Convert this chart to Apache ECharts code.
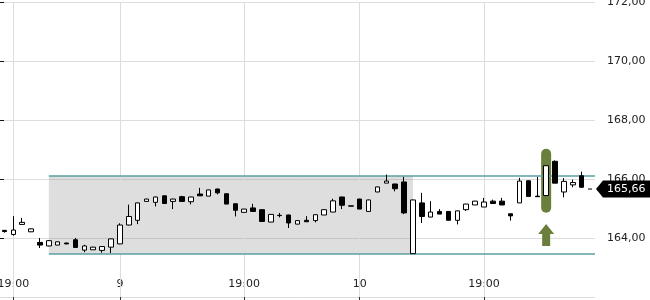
<!DOCTYPE html>
<html><head><meta charset="utf-8">
<script src="https://cdn.jsdelivr.net/npm/echarts@6/dist/echarts.min.js"></script>
<style>html,body{margin:0;padding:0;background:#fff}#c{width:650px;height:300px}</style>
</head><body><div id="c"></div>
<script>
// ---- data ----
const opens = [164.26,164.12,164.46,164.21,163.85,163.73,163.76,163.83,163.94,163.59,
  163.60,163.58,163.69,163.80,164.44,164.60,165.24,165.21,165.43,165.24,
  165.40,165.23,165.49,165.42,165.66,165.50,165.16,164.87,165.02,164.96,
  164.54,164.77,164.78,164.47,164.60,164.59,164.78,164.88,165.39,165.09,
  165.32,164.90,165.56,165.86,165.83,165.90,163.47,165.19,164.71,164.90,
  164.90,164.60,164.96,165.12,165.05,165.25,165.25,164.82,165.19,165.94,
  165.42,165.44,166.60,165.56,165.80,166.11];
const closes = [164.22,164.27,164.53,164.31,163.76,163.91,163.87,163.80,163.68,163.73,
  163.69,163.71,163.97,164.44,164.73,165.19,165.32,165.39,165.17,165.32,
  165.24,165.39,165.43,165.63,165.53,165.15,164.94,164.98,164.90,164.56,
  164.80,164.76,164.51,164.59,164.55,164.79,164.96,165.26,165.11,165.08,
  164.98,165.29,165.73,165.93,165.67,164.85,165.29,164.73,164.88,164.81,
  164.60,164.92,165.15,165.25,165.22,165.17,165.12,164.75,165.93,165.41,
  165.40,166.45,165.86,165.92,165.88,165.72];
const lows = [164.18,164.08,164.46,164.20,163.66,163.72,163.76,163.79,163.68,163.52,
  163.60,163.50,163.49,163.79,164.43,164.47,165.24,165.07,165.17,164.98,
  165.24,165.14,165.43,165.42,165.48,165.15,164.73,164.86,164.90,164.56,
  164.54,164.70,164.34,164.47,164.55,164.53,164.78,164.88,164.98,165.08,
  164.98,164.90,165.56,165.86,165.58,164.81,163.47,164.51,164.70,164.81,
  164.60,164.46,164.92,165.12,165.05,165.17,165.12,164.59,165.19,165.41,
  165.40,165.44,165.86,165.38,165.72,165.70];
const highs = [164.27,164.74,164.68,164.33,164.00,163.93,163.88,163.84,164.00,163.77,
  163.70,163.72,163.98,164.50,165.13,165.20,165.33,165.40,165.44,165.33,
  165.43,165.40,165.70,165.64,165.67,165.51,165.17,164.99,165.16,164.97,
  164.81,164.85,164.79,164.60,164.74,164.80,164.97,165.33,165.40,165.09,
  165.33,165.30,165.74,166.15,165.84,166.07,165.30,165.53,165.25,164.98,
  164.91,164.93,165.16,165.26,165.36,165.30,165.36,164.83,166.04,165.95,
  166.07,166.46,166.63,166.03,165.98,166.25];
const slotCount = 67;
const xTickIndex = [1, 13, 27, 40, 54];
const xTickLabels = ['19:00', '9', '19:00', '10', '19:00'];
const yMin = 162, yMax = 172, yStep = 2;
const rangeTop = 166.10, rangeBottom = 163.46, rangeStartIndex = 5, rangeEndIndex = 46;
const signalIndex = 61, signalHigh = 167.02, signalLow = 164.86;
const arrowTop = 164.47, arrowBottom = 163.73;
const lastPrice = 165.66;

// ---- build ----
const categories = Array.from({length: slotCount}, (_, i) => String(i));
const candles = opens.map((o, i) => [o, closes[i], lows[i], highs[i]]);
const labelAt = {};
xTickIndex.forEach((k, j) => labelAt[k] = xTickLabels[j]);
const FONT = 'DejaVu Sans';
const TEAL = '#5b9ea3';
const GREEN = '#6b7f3c';
const W = 650, H = 300, GRID_RIGHT = 55;
// slot-centre position on the hidden continuous x axis (slot i spans [i, i+1])
const slotCentre = (i) => i + 0.5;

const chart = echarts.init(document.getElementById('c'), null, {renderer: 'canvas'});
const option = {
  animation: false,
  backgroundColor: '#fff',
  grid: {left: 0, right: GRID_RIGHT, top: 2, bottom: 3, containLabel: false, outerBoundsMode: 'none'},
  xAxis: [{
    type: 'category', data: categories, boundaryGap: true,
    axisLine: {show: false},
    axisTick: {show: true, alignWithLabel: true, length: 3, inside: false,
      interval: (i) => labelAt[i] !== undefined, lineStyle: {color: '#333'}},
    axisLabel: {show: true, inside: true, margin: 7, interval: (i) => labelAt[i] !== undefined,
      formatter: (v, i) => labelAt[i] || '', color: '#222', fontFamily: FONT, fontSize: 11},
    splitLine: {show: false}
  }, {
    type: 'value', min: 0, max: slotCount, show: false
  }],
  yAxis: {
    type: 'value', position: 'right', min: yMin, max: yMax, interval: yStep,
    axisLine: {show: false},
    axisTick: {show: true, length: 4, lineStyle: {color: '#111'}},
    axisLabel: {margin: 12, color: '#222', fontFamily: FONT, fontSize: 11, showMinLabel: false,
      formatter: (v) => v.toFixed(2).replace('.', ',')},
    splitLine: {show: true, lineStyle: {color: '#dddddd', width: 1}}
  },
  series: [
    {
      type: 'line', data: [], z: 1, silent: true,
      markArea: {silent: true, z: 1,
        itemStyle: {color: 'rgba(128,128,128,0.26)'},
        data: [[{coord: [rangeStartIndex, rangeTop]}, {coord: [rangeEndIndex, rangeBottom]}]]
      },
      markLine: {silent: true, symbol: 'none', z: 1, label: {show: false},
        data: xTickIndex.map(k => ({xAxis: k, lineStyle: {color: '#dddddd', width: 1, type: 'solid'}}))
      },
      markPoint: {silent: true, z: 1, label: {show: false},
        data: [
          {coord: [signalIndex, (signalHigh + signalLow) / 2],
           symbol: 'path://M0,5 A5,5 0 0 1 10,5 L10,59 A5,5 0 0 1 0,59 Z',
           symbolSize: [10, 64], symbolKeepAspect: false, itemStyle: {color: GREEN}},
          {coord: [signalIndex, (arrowTop + arrowBottom) / 2],
           symbol: 'path://M8,0 L16,10 L12,10 L12,22 L4,22 L4,10 L0,10 Z',
           symbolSize: [16, 22], symbolKeepAspect: false, itemStyle: {color: GREEN}}
        ]
      }
    },
    {
      type: 'line', xAxisIndex: 1, z: 2, silent: true, symbol: 'none',
      lineStyle: {color: TEAL, width: 1.5},
      data: [[slotCentre(rangeStartIndex), rangeTop], [slotCount, rangeTop]]
    },
    {
      type: 'line', xAxisIndex: 1, z: 2, silent: true, symbol: 'none',
      lineStyle: {color: TEAL, width: 1.5},
      data: [[slotCentre(rangeStartIndex), rangeBottom], [slotCount, rangeBottom]]
    },
    {
      type: 'candlestick', data: candles, z: 3, barWidth: 5,
      itemStyle: {color: '#ffffff', color0: '#000000', borderColor: '#000000',
        borderColor0: '#000000', borderColorDoji: '#000000', borderWidth: 1}
    }
  ]
};
chart.setOption(option);

function drawLastPrice() {
  const y = chart.convertToPixel({yAxisIndex: 0}, lastPrice);
  const gx = W - GRID_RIGHT;
  chart.setOption({
    graphic: [
      {type: 'line', z: 100, shape: {x1: gx - 7, y1: y, x2: gx - 3, y2: y},
        style: {stroke: '#000', lineWidth: 1}},
      {type: 'polygon', z: 100,
        shape: {points: [[gx + 1, y], [gx + 8, y - 8.5], [W, y - 8.5], [W, y + 8.5], [gx + 8, y + 8.5]]},
        style: {fill: '#000'}},
      {type: 'text', z: 101, x: gx + 12, y: y,
        style: {text: lastPrice.toFixed(2).replace('.', ','), fill: '#fff',
          font: '11px "' + FONT + '"', textVerticalAlign: 'middle', verticalAlign: 'middle'}}
    ]
  });
}
drawLastPrice();
</script></body></html>
